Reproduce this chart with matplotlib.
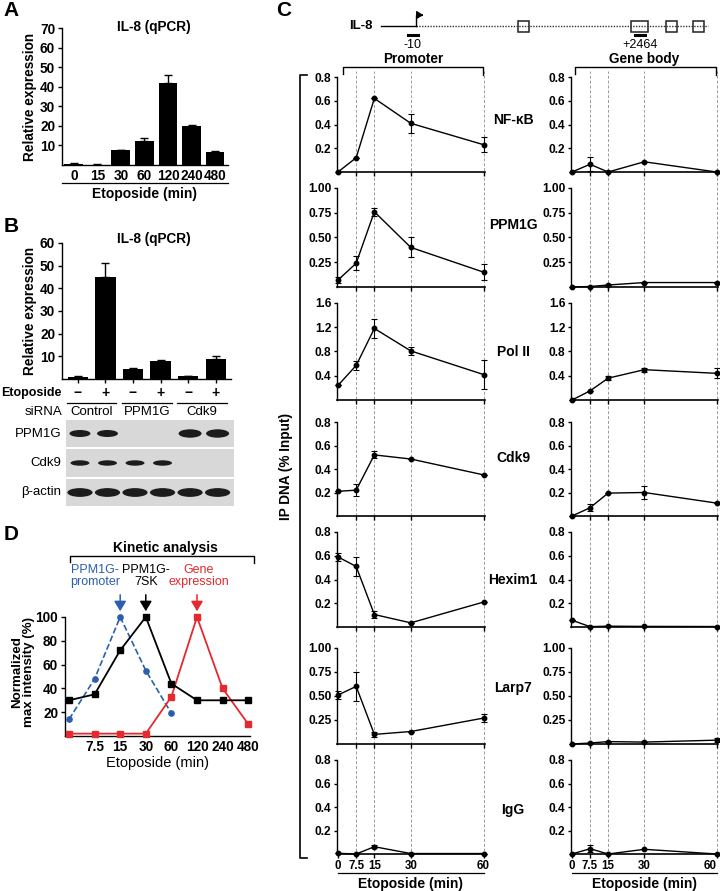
import matplotlib
matplotlib.use('Agg')
import matplotlib.pyplot as plt
from matplotlib.patches import Ellipse, Rectangle, FancyArrowPatch
from matplotlib.lines import Line2D

plt.rcParams['font.family'] = ['Liberation Sans', 'DejaVu Sans']
plt.rcParams['axes.linewidth'] = 1.0

# ---------------- data ----------------
A_times = ['0', '15', '30', '60', '120', '240', '480']
A_values = [0.5, 0.2, 7.5, 12.5, 42.0, 20.0, 6.5]
A_errors = [0.3, 0.1, 0.2, 1.3, 4.0, 0.4, 0.6]

B_etoposide = ['\u2212', '+', '\u2212', '+', '\u2212', '+']
B_sirna = ['Control', 'PPM1G', 'Cdk9']
B_values = [1.0, 45.0, 4.5, 8.0, 1.3, 9.0]
B_errors = [0.2, 6.0, 0.5, 0.5, 0.2, 1.2]
blot_labels = ['PPM1G', 'Cdk9', '\u03b2-actin']
blot_bands = [[1.0, 1.0, 0, 0, 1.2, 1.2],
              [0.9, 0.9, 0.9, 0.9, 0, 0],
              [1.1, 1.1, 1.1, 1.1, 1.1, 1.1]]

D_times = ['', '7.5', '15', '30', '60', '120', '240', '480']
D_promoter = [14, 48, 100, 55, 19]
D_7sk = [30, 35, 72, 100, 44, 30, 30, 30]
D_expression = [2, 2, 2, 2, 33, 100, 40, 10]

C_times = [0, 7.5, 15, 30, 60]
C_factors = ['NF-\u03baB', 'PPM1G', 'Pol II', 'Cdk9', 'Hexim1', 'Larp7', 'IgG']
C_ymax = [0.8, 1.0, 1.6, 0.8, 0.8, 1.0, 0.8]
C_prom_vals = [[0.0, 0.12, 0.62, 0.41, 0.23],
               [0.07, 0.24, 0.76, 0.40, 0.15],
               [0.24, 0.57, 1.18, 0.81, 0.42],
               [0.21, 0.22, 0.52, 0.485, 0.35],
               [0.59, 0.51, 0.105, 0.035, 0.21],
               [0.51, 0.60, 0.10, 0.13, 0.27],
               [0.006, 0.0, 0.062, 0.004, 0.004]]
C_prom_errs = [[0, 0, 0, 0.08, 0.065],
               [0.03, 0.07, 0.04, 0.10, 0.08],
               [0, 0.08, 0.15, 0.06, 0.24],
               [0, 0.05, 0.03, 0, 0],
               [0.03, 0.08, 0.03, 0, 0],
               [0.04, 0.15, 0.03, 0, 0.04],
               [0, 0, 0.015, 0, 0]]
C_body_vals = [[0.0, 0.065, 0.0, 0.086, 0.0],
               [0.0, 0.005, 0.02, 0.045, 0.045],
               [0.0, 0.15, 0.36, 0.50, 0.44],
               [0.0, 0.07, 0.195, 0.20, 0.11],
               [0.057, 0.003, 0.007, 0.005, 0.004],
               [0.0, 0.01, 0.025, 0.02, 0.04],
               [0.0, 0.045, 0.0, 0.04, 0.0]]
C_body_errs = [[0, 0.06, 0, 0, 0],
               [0, 0, 0, 0, 0],
               [0, 0, 0.03, 0.03, 0.085],
               [0, 0.03, 0, 0.055, 0],
               [0, 0, 0, 0, 0],
               [0, 0, 0, 0, 0.02],
               [0, 0.03, 0, 0, 0]]

BLUE = '#2b5fae'
RED = '#e32a2f'

# ---------------- helpers ----------------
W, H = 720, 891
fig = plt.figure(figsize=(W / 100, H / 100), dpi=100)


def ax_px(l, t, r, b):
    ax = fig.add_axes([l / W, 1 - b / H, (r - l) / W, (b - t) / H])
    ax.set_facecolor('none')
    return ax


def txt(x, y, s, **kw):
    kw.setdefault('ha', 'center')
    kw.setdefault('va', 'center')
    fig.text(x / W, 1 - y / H, s, **kw)


def line_px(xs, ys, **kw):
    kw.setdefault('color', 'black')
    kw.setdefault('lw', 1.0)
    fig.add_artist(Line2D([x / W for x in xs], [1 - y / H for y in ys], **kw))


def prism(ax):
    for s in ['top', 'right']:
        ax.spines[s].set_visible(False)
    ax.tick_params(direction='out', length=3, width=1)


BOLD = dict(fontweight='bold')

# ---------------- panel A ----------------
txt(11, 11, 'A', fontsize=15, **BOLD)
axA = ax_px(62, 28, 228, 165)
prism(axA)
xa = list(range(len(A_times)))
axA.bar(xa, A_values, width=0.8, color='black', zorder=2)
axA.errorbar(xa, A_values, yerr=[[0] * len(xa), A_errors], fmt='none',
             ecolor='black', capsize=3, elinewidth=1, capthick=1, zorder=3)
axA.set_xlim(-0.5, 6.55)
axA.set_ylim(0, 70)
axA.set_yticks([10, 20, 30, 40, 50, 60, 70])
axA.set_xticks(xa)
axA.set_xticklabels(A_times)
axA.tick_params(axis='x', length=0, pad=3)
axA.tick_params(axis='y', pad=2)
for lab in axA.get_xticklabels() + axA.get_yticklabels():
    lab.set_fontsize(9.8)
    lab.set_fontweight('bold')
axA.set_ylabel('Relative expression', fontsize=9.8, fontweight='bold', labelpad=2)
txt(154, 27, 'IL-8 (qPCR)', fontsize=9.8, **BOLD)
line_px([62, 228], [183, 183], lw=0.9)
txt(145, 194, 'Etoposide (min)', fontsize=10, **BOLD)

# ---------------- panel B ----------------
txt(11, 226, 'B', fontsize=15, **BOLD)
axB = ax_px(62, 243, 231, 379)
prism(axB)
xb = list(range(len(B_values)))
axB.bar(xb, B_values, width=0.73, color='black', zorder=2)
axB.errorbar(xb, B_values, yerr=[[0] * len(xb), B_errors], fmt='none',
             ecolor='black', capsize=3, elinewidth=1, capthick=1, zorder=3)
axB.set_xlim(-0.58, 5.56)
axB.set_ylim(0, 60)
axB.set_yticks([10, 20, 30, 40, 50, 60])
axB.set_xticks(xb)
axB.set_xticklabels([])
axB.tick_params(axis='x', length=3)
axB.tick_params(axis='y', pad=2)
for lab in axB.get_yticklabels():
    lab.set_fontsize(9.8)
    lab.set_fontweight('bold')
axB.set_ylabel('Relative expression', fontsize=9.8, fontweight='bold', labelpad=2)
txt(154, 239, 'IL-8 (qPCR)', fontsize=9.8, **BOLD)


def bx(p):
    return axB.transData.transform((p, 0))[0]


txt(62, 393, 'Etoposide', ha='right', fontsize=9.0, **BOLD)
for p, s in zip(xb, B_etoposide):
    txt(bx(p), 393, s, fontsize=10, **BOLD)
txt(62, 412, 'siRNA', ha='right', fontsize=9.5)
for g, name in enumerate(B_sirna):
    x0, x1 = bx(2 * g) - 11, bx(2 * g + 1) + 11
    line_px([x0, x1], [403, 403], lw=0.9)
    txt((x0 + x1) / 2, 412, name, fontsize=9.5)

# blot
axBl = ax_px(66, 420, 234, 506)
axBl.set_xlim(66, 234)
axBl.set_ylim(506, 420)
axBl.axis('off')
row_spans = [(420, 447), (449, 477), (479, 506)]
band_w = [21, 20, 24]
band_h = [7, 6, 8]
for r, (y0, y1) in enumerate(row_spans):
    axBl.add_patch(Rectangle((66, y0), 168, y1 - y0, color='#d8d8d8', lw=0))
    yc = (y0 + y1) / 2
    for p, s in enumerate(blot_bands[r]):
        if s > 0:
            axBl.add_patch(Ellipse((bx(p) + 2, yc), band_w[r] * s ** 0.5,
                                   band_h[r] * s, color='#1c1c1c', lw=0))
    txt(61, yc, blot_labels[r], ha='right', fontsize=9.5)

# ---------------- panel D ----------------
txt(11, 534, 'D', fontsize=15, **BOLD)
axD = ax_px(65, 617, 250, 736)
prism(axD)
xd = list(range(len(D_times)))
axD.plot(xd[:len(D_promoter)], D_promoter, '--o', color=BLUE, ms=3.8, lw=1.2,
         clip_on=False, zorder=3)
axD.plot(xd, D_7sk, '-s', color='black', ms=4.3, lw=1.3, clip_on=False, zorder=4)
axD.plot(xd, D_expression, '-s', color=RED, ms=4.3, lw=1.3, clip_on=False, zorder=3)
axD.set_xlim(-0.156, 7.07)
axD.set_ylim(0, 100)
axD.set_yticks([20, 40, 60, 80, 100])
axD.set_xticks(xd)
axD.set_xticklabels(D_times)
axD.tick_params(axis='x', length=0, pad=3)
axD.tick_params(axis='y', pad=2)
for lab in axD.get_xticklabels() + axD.get_yticklabels():
    lab.set_fontsize(9.8)
    lab.set_fontweight('bold')
txt(157, 763, 'Etoposide (min)', fontsize=10.5)
txt(23, 672, 'Normalized\nmax intensity (%)', rotation=90, fontsize=9.6,
    linespacing=0.95, fontweight='semibold')
txt(165, 548, 'Kinetic analysis', fontsize=10, **BOLD)
line_px([70, 70, 254, 254], [562, 556, 556, 563], lw=1.0)
txt(95, 576, 'PPM1G-\npromoter', fontsize=9.0, color=BLUE, linespacing=1.0)
txt(146, 576, 'PPM1G-\n7SK', fontsize=9.0, color='black', linespacing=1.0)
txt(199, 576, 'Gene\nexpression', fontsize=9.0, color=RED, linespacing=1.0)
for p, c in [(2, BLUE), (3, 'black'), (5, RED)]:
    x = axD.transData.transform((p, 0))[0]
    fig.add_artist(FancyArrowPatch((x / W, 1 - 592 / H), (x / W, 1 - 614 / H),
                                   transform=fig.transFigure,
                                   arrowstyle='-|>,head_length=0.5,head_width=0.3',
                                   mutation_scale=12, color=c, lw=1.1))

# ---------------- panel C ----------------
txt(284, 10, 'C', fontsize=15, **BOLD)
# gene diagram
txt(361, 26, 'IL-8', fontsize=9.5, **BOLD)
line_px([381, 416], [26, 26], lw=1.0)
line_px([416, 708], [26, 26], lw=1.0, ls=(0, (1, 1)), color='#333333')
line_px([416, 416, 421], [26, 15, 15], lw=1.0)
fig.add_artist(FancyArrowPatch((419 / W, 1 - 15 / H), (426 / W, 1 - 15 / H),
                               transform=fig.transFigure,
                               arrowstyle='-|>,head_length=0.4,head_width=0.25',
                               mutation_scale=10, color='black', lw=0.8))
for x0, x1 in [(518, 529), (631, 648), (666, 677), (693, 704)]:
    fig.add_artist(Rectangle((x0 / W, 1 - 31.5 / H), (x1 - x0) / W, 11 / H,
                             transform=fig.transFigure, facecolor='white',
                             edgecolor='#222222', lw=1.1))
line_px([408, 418], [35, 35], lw=2.2)
line_px([635, 645], [35, 35], lw=2.2)
txt(413, 45, '-10', fontsize=9)
txt(640, 45, '+2464', fontsize=9)

# column headers
txt(413, 59, 'Promoter', fontsize=9.8, **BOLD)
line_px([343, 343, 483, 483], [74, 67, 67, 75], lw=1.0)
txt(644, 59, 'Gene body', fontsize=9.8, **BOLD)
line_px([575, 575, 716, 716], [74, 67, 67, 75], lw=1.0)

# big bracket + y label
line_px([307, 300, 300, 307], [75, 75, 858, 858], lw=1.2)
txt(286, 467, 'IP DNA (% Input)', rotation=90, fontsize=9.8, **BOLD)

rows = [(77, 172), (188, 287), (303, 400), (422, 516),
        (532, 627), (648, 744), (760, 854)]
label_y = [120, 225, 352, 458, 580, 688, 810]
cols = [(337, 485), (571, 718)]
XL = (-0.4, 60.6)

# dashed guide lines (continuous through rows)
for l, r in cols:
    axg = ax_px(l, 71, r, 856)
    axg.set_xlim(*XL)
    axg.axis('off')
    for t in C_times[1:]:
        axg.axvline(t, color='#9a9a9a', lw=0.7, ls=(0, (3, 2)))


def fmt_ticks(ymax):
    if ymax == 1.0:
        return [0.25, 0.5, 0.75, 1.0], ['0.25', '0.50', '0.75', '1.00']
    step = ymax / 4
    vals = [step * k for k in range(1, 5)]
    return vals, ['%.1f' % v for v in vals]


for i, (t, b) in enumerate(rows):
    for c, (l, r) in enumerate(cols):
        ax = ax_px(l, t, r, b)
        prism(ax)
        ax.spines['bottom'].set_linewidth(1.2)
        vals = C_prom_vals[i] if c == 0 else C_body_vals[i]
        errs = C_prom_errs[i] if c == 0 else C_body_errs[i]
        ax.errorbar(C_times, vals, yerr=errs, fmt='-o', color='black', ms=3.2,
                    lw=1.0, elinewidth=0.8, capsize=2.5, capthick=0.8,
                    clip_on=False, zorder=3)
        ax.set_xlim(*XL)
        ax.set_ylim(0, C_ymax[i])
        yt, yl = fmt_ticks(C_ymax[i])
        ax.set_yticks(yt)
        ax.set_yticklabels(yl)
        for lab in ax.get_yticklabels():
            lab.set_fontsize(8.6)
            lab.set_fontweight('bold')
        ax.tick_params(axis='y', pad=1.5, length=2.5)
        if i == len(rows) - 1:
            ax.set_xticks(C_times)
            ax.set_xticklabels(['0', '7.5', '15', '30', '60'])
            ax.tick_params(axis='x', length=3, pad=1.5)
            labs = ax.get_xticklabels()
            for lab in labs:
                lab.set_fontsize(8.3)
                lab.set_fontweight('bold')
            if c == 1:
                labs[-1].set_horizontalalignment('right')
                labs[-1].set_x(61.5)
        else:
            ax.set_xticks(C_times[1:])
            ax.set_xticklabels([])
            ax.tick_params(axis='x', length=3)
    txt(513, label_y[i], C_factors[i], fontsize=10, **BOLD)

for l, r in cols:
    line_px([l + 1, r - 1], [873, 873], lw=0.9)
    txt((l + r) / 2, 884, 'Etoposide (min)', fontsize=10, **BOLD)

fig.savefig('out.png', dpi=100)
